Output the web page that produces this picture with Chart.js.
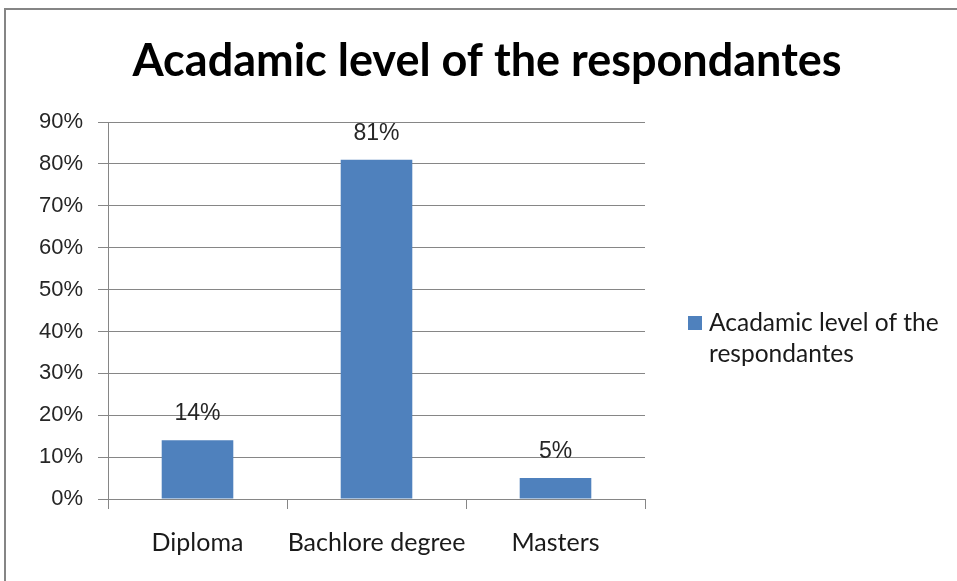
<!DOCTYPE html>
<html>
<head>
<meta charset="utf-8">
<script src="https://cdn.jsdelivr.net/npm/chart.js@4/dist/chart.umd.min.js"></script>
<style>
  html, body { margin: 0; padding: 0; background: #fff; }
  #wrap { position: absolute; left: 0; top: 0; width: 957px; height: 581px; }
</style>
</head>
<body>
<div id="wrap"><canvas id="chart"></canvas></div>
<script>
// chart data
const categories = ["Diploma", "Bachlore degree", "Masters"];
const shares = [0.14, 0.81, 0.05];
const seriesName = "Acadamic level of the respondantes";
const legendLines = ["Acadamic level of the", "respondantes"];
const chartTitle = "Acadamic level of the respondantes";

const barColor = "#4f81bd";
const gridColor = "#868686";
const pct = v => Math.round(v * 100) + "%";

// outer frame like the office chart border
const framePlugin = {
    id: "frame",
    beforeDraw(chart) {
        const ctx = chart.ctx;
        ctx.save();
        ctx.strokeStyle = "#858585";
        ctx.lineWidth = 2;
        ctx.strokeRect(5, 9, 1100, 1100);
        ctx.restore();
    }
};

// title centred over the whole frame, not just the plot
const topTitle = {
    id: "topTitle",
    afterDraw(chart) {
        const ctx = chart.ctx;
        ctx.save();
        ctx.font = "bold 45px Lato";
        ctx.fillStyle = "#000";
        ctx.textAlign = "center";
        ctx.textBaseline = "alphabetic";
        ctx.fillText(chartTitle, 487, 76);
        ctx.restore();
    }
};

// value labels above each bar
const valueLabels = {
    id: "valueLabels",
    afterDatasetsDraw(chart) {
        const ctx = chart.ctx;
        const meta = chart.getDatasetMeta(0);
        ctx.save();
        ctx.font = "23px 'Liberation Sans'";
        ctx.fillStyle = "#262626";
        ctx.textAlign = "center";
        ctx.textBaseline = "alphabetic";
        meta.data.forEach((bar, i) => {
            ctx.fillText(pct(shares[i]), bar.x, bar.y - 20);
        });
        ctx.restore();
    }
};

// legend on the right, wrapped over two lines
const sideLegend = {
    id: "sideLegend",
    afterDraw(chart) {
        const ctx = chart.ctx;
        const area = chart.chartArea;
        const x = area.right + 43;
        const y = 316;
        ctx.save();
        ctx.fillStyle = barColor;
        ctx.fillRect(x, y, 14, 14);
        ctx.font = "24.5px Lato";
        ctx.fillStyle = "#1a1a1a";
        ctx.textAlign = "left";
        ctx.textBaseline = "middle";
        legendLines.forEach((line, i) => {
            ctx.fillText(line, x + 21, y + 7 + i * 31);
        });
        ctx.restore();
    }
};

new Chart(document.getElementById("chart"), {
    type: "bar",
    data: {
        labels: categories,
        datasets: [{
            label: seriesName,
            data: shares,
            backgroundColor: barColor,
            borderWidth: 0,
            barPercentage: 0.4,
            categoryPercentage: 1.0
        }]
    },
    options: {
        responsive: true,
        maintainAspectRatio: false,
        animation: false,
        layout: {
            padding: { left: 0, right: 312, top: 122, bottom: 0 }
        },
        plugins: {
            legend: { display: false },
            tooltip: { enabled: false },
            title: { display: false }
        },
        scales: {
            x: {
                grid: {
                    drawOnChartArea: false,
                    drawTicks: true,
                    tickLength: 10,
                    color: gridColor
                },
                border: { color: gridColor },
                ticks: {
                    color: "#1a1a1a",
                    font: { family: "Lato", size: 25 },
                    padding: 19,
                    maxRotation: 0,
                    autoSkip: false
                },
                afterFit(scale) { scale.height = 82; }
            },
            y: {
                min: 0,
                max: 0.9,
                grid: {
                    color: gridColor,
                    tickLength: 10
                },
                border: { color: gridColor },
                ticks: {
                    stepSize: 0.1,
                    color: "#262626",
                    font: { family: "Liberation Sans", size: 22 },
                    padding: 15,
                    callback: v => pct(v)
                },
                afterFit(scale) { scale.width = 108; }
            }
        }
    },
    plugins: [framePlugin, topTitle, valueLabels, sideLegend]
});
</script>
</body>
</html>
